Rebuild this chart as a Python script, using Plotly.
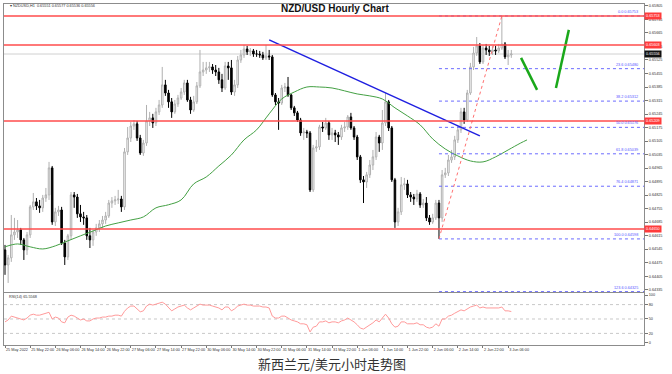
import plotly.graph_objects as go

# ---------------- data ----------------
open_ = [
0.64541,0.64463,0.64500,0.64619,0.64634,0.64645,0.64593,0.64541,0.64619,0.64764,
0.64790,0.64769,0.64759,0.64810,0.64826,0.64966,0.64686,0.64738,0.64748,0.64577,
0.64505,0.64614,0.64826,0.64815,0.64728,0.64712,0.64707,0.64614,0.64593,0.64634,
0.64655,0.64676,0.64696,0.64717,0.64784,0.64795,0.64800,0.64805,0.64764,0.65049,
0.65121,0.65183,0.65194,0.65121,0.65043,0.65095,0.65209,0.65225,0.65199,0.65256,
0.65292,0.65396,0.65354,0.65308,0.65256,0.65297,0.65328,0.65359,0.65406,0.65318,
0.65266,0.65308,0.65391,0.65463,0.65473,0.65484,0.65489,0.65473,0.65463,0.65422,
0.65380,0.65494,0.65484,0.65359,0.65396,0.65525,0.65551,0.65582,0.65567,0.65572,
0.65556,0.65556,0.65551,0.65536,0.65546,0.65541,0.65344,0.65308,0.65302,0.65380,
0.65385,0.65344,0.65277,0.65251,0.65214,0.65147,0.65152,0.65147,0.64852,0.65069,
0.65075,0.65178,0.65173,0.65199,0.65137,0.65147,0.65137,0.65126,0.65173,0.65178,
0.65230,0.65173,0.65126,0.65023,0.64904,0.64893,0.64930,0.64981,0.65023,0.65126,
0.65095,0.65199,0.65308,0.65173,0.64904,0.64686,0.64738,0.64878,0.64883,0.64826,
0.64815,0.64805,0.64831,0.64774,0.64784,0.64707,0.64686,0.64707,0.64784,0.64707,
0.64930,0.64940,0.65007,0.65023,0.65111,0.65163,0.65256,0.65214,0.65354,0.65489,
0.65561,0.65598,0.65515,0.65587,0.65577,0.65567,0.65577,0.65572,0.65587,0.65608,
0.65541,0.65551]
high = [
0.64567,0.64515,0.64722,0.64707,0.64696,0.64655,0.64603,0.64634,0.64774,0.64836,
0.64810,0.64800,0.64826,0.64862,0.64997,0.64976,0.64759,0.64769,0.64764,0.64593,
0.64624,0.64841,0.64841,0.64831,0.64774,0.64738,0.64722,0.64655,0.64645,0.64676,
0.64696,0.64717,0.64738,0.64800,0.64815,0.64821,0.64852,0.64821,0.65069,0.65178,
0.65204,0.65214,0.65209,0.65137,0.65111,0.65292,0.65256,0.65246,0.65277,0.65318,
0.65489,0.65422,0.65370,0.65328,0.65318,0.65344,0.65380,0.65422,0.65422,0.65334,
0.65339,0.65411,0.65577,0.65515,0.65515,0.65515,0.65504,0.65499,0.65484,0.65453,
0.65515,0.65515,0.65525,0.65422,0.65546,0.65577,0.65603,0.65598,0.65587,0.65582,
0.65577,0.65572,0.65567,0.65603,0.65577,0.65551,0.65354,0.65328,0.65396,0.65406,
0.65437,0.65349,0.65287,0.65261,0.65225,0.65173,0.65163,0.65157,0.65085,0.65111,
0.65189,0.65204,0.65225,0.65209,0.65173,0.65163,0.65152,0.65189,0.65204,0.65240,
0.65251,0.65183,0.65137,0.65033,0.64924,0.64945,0.65007,0.65059,0.65152,0.65137,
0.65266,0.65354,0.65318,0.65183,0.64914,0.64759,0.64919,0.64914,0.64904,0.64841,
0.64831,0.64852,0.64841,0.64805,0.64815,0.64722,0.64728,0.64800,0.64800,0.64955,
0.64966,0.65033,0.65059,0.65132,0.65183,0.65277,0.65277,0.65370,0.65510,0.65593,
0.65644,0.65613,0.65603,0.65608,0.65598,0.65598,0.65598,0.65608,0.65753,0.65618,
0.65577,0.65577]
low = [
0.64412,0.64370,0.64479,0.64593,0.64603,0.64567,0.64489,0.64515,0.64603,0.64748,
0.64748,0.64733,0.64738,0.64790,0.64800,0.64671,0.64665,0.64717,0.64567,0.64463,
0.64489,0.64593,0.64759,0.64707,0.64686,0.64671,0.64593,0.64551,0.64562,0.64614,
0.64634,0.64655,0.64676,0.64707,0.64759,0.64774,0.64779,0.64738,0.64748,0.65033,
0.65100,0.65163,0.65106,0.65033,0.65028,0.65080,0.65183,0.65173,0.65183,0.65240,
0.65277,0.65339,0.65277,0.65225,0.65246,0.65282,0.65318,0.65344,0.65308,0.65246,
0.65256,0.65297,0.65380,0.65442,0.65453,0.65463,0.65453,0.65442,0.65401,0.65359,
0.65370,0.65422,0.65344,0.65339,0.65380,0.65510,0.65536,0.65551,0.65546,0.65541,
0.65541,0.65536,0.65525,0.65525,0.65525,0.65334,0.65292,0.65163,0.65292,0.65359,
0.65334,0.65266,0.65235,0.65204,0.65132,0.65111,0.65121,0.64841,0.64841,0.65049,
0.65059,0.65152,0.65163,0.65111,0.65111,0.65100,0.65085,0.65111,0.65152,0.65163,
0.65163,0.65111,0.65007,0.64888,0.64784,0.64862,0.64914,0.64955,0.65007,0.65049,
0.65059,0.65183,0.65157,0.64893,0.64655,0.64665,0.64722,0.64852,0.64810,0.64790,
0.64774,0.64790,0.64759,0.64759,0.64691,0.64671,0.64676,0.64696,0.64598,0.64686,
0.64914,0.64924,0.64992,0.65007,0.65095,0.65147,0.65194,0.65204,0.65344,0.65473,
0.65546,0.65504,0.65504,0.65551,0.65546,0.65551,0.65551,0.65561,0.65577,0.65530,
0.65499,0.65536]
close = [
0.64463,0.64500,0.64619,0.64634,0.64645,0.64593,0.64541,0.64619,0.64764,0.64790,
0.64769,0.64759,0.64810,0.64826,0.64966,0.64686,0.64738,0.64748,0.64577,0.64505,
0.64614,0.64826,0.64815,0.64728,0.64712,0.64707,0.64614,0.64593,0.64634,0.64655,
0.64676,0.64696,0.64717,0.64784,0.64795,0.64800,0.64805,0.64764,0.65049,0.65121,
0.65183,0.65194,0.65121,0.65043,0.65095,0.65209,0.65225,0.65199,0.65256,0.65292,
0.65396,0.65354,0.65308,0.65256,0.65297,0.65328,0.65359,0.65406,0.65318,0.65266,
0.65308,0.65391,0.65463,0.65473,0.65484,0.65489,0.65473,0.65463,0.65422,0.65380,
0.65494,0.65484,0.65359,0.65396,0.65525,0.65551,0.65582,0.65567,0.65572,0.65556,
0.65556,0.65551,0.65536,0.65546,0.65541,0.65344,0.65308,0.65302,0.65380,0.65385,
0.65344,0.65277,0.65251,0.65214,0.65147,0.65152,0.65147,0.64852,0.65069,0.65075,
0.65178,0.65173,0.65199,0.65137,0.65147,0.65137,0.65126,0.65173,0.65178,0.65230,
0.65173,0.65126,0.65023,0.64904,0.64893,0.64930,0.64981,0.65023,0.65126,0.65095,
0.65199,0.65308,0.65173,0.64904,0.64686,0.64738,0.64878,0.64883,0.64826,0.64815,
0.64805,0.64831,0.64774,0.64784,0.64707,0.64686,0.64707,0.64784,0.64707,0.64930,
0.64940,0.65007,0.65023,0.65111,0.65163,0.65256,0.65214,0.65354,0.65489,0.65561,
0.65598,0.65515,0.65587,0.65577,0.65567,0.65577,0.65572,0.65587,0.65608,0.65541,
0.65551,0.65556]
bar_idx = list(range(len(close)))

rsi = [44,48,56,54,52,50,48,52,58,60,
58,58,60,62,64,50,54,52,44,42,
54,58,56,52,48,50,46,46,50,52,
52,54,54,56,56,58,58,56,66,73,
77,77,71,65,67,77,81,79,81,83,
85,81,73,67,71,75,77,79,73,69,
73,77,81,79,79,79,77,75,73,69,
75,75,67,71,77,79,81,79,79,77,
77,77,75,75,73,56,52,52,56,56,
52,48,46,44,40,40,38,23,33,35,
44,44,46,42,44,44,42,46,48,52,
48,44,38,31,29,33,38,42,48,44,
52,60,52,40,33,35,44,44,40,40,
40,42,38,38,33,31,33,40,35,50,
50,56,58,62,65,69,67,71,75,77,
79,73,75,73,73,73,73,73,75,67,
67,65.5568]

ma_bars = [0,4,8,12,16,20,24,28,32,36,40,44,48,52,56,60,64,68,72,76,80,84,88,92,96,
           100,104,108,112,116,120,124,128,132,136,140,144,148,152,156,160,164,166]
ma_values = [0.64557,0.64572,0.64557,0.64546,0.64562,0.64588,0.64614,0.64639,0.64665,0.64681,
             0.64696,0.64712,0.64759,0.64775,0.64800,0.64883,0.64919,0.64976,0.65033,0.65111,
             0.65163,0.65246,0.65323,0.65359,0.65385,0.65385,0.65380,0.65365,0.65349,0.65339,
             0.65323,0.65277,0.65235,0.65189,0.65116,0.65064,0.65028,0.65002,0.64997,0.65023,
             0.65059,0.65095,0.65111]

x_tick_bars = [0,8,16,24,32,40,48,56,64,72,80,88,96,104,112,120,128,136,144,152,160]
x_tick_labels = ["25 May 2022","25 May 22:00","26 May 06:00","26 May 14:00","26 May 22:00",
                 "27 May 06:00","27 May 14:00","27 May 22:00","30 May 06:00","30 May 14:00",
                 "30 May 22:00","31 May 06:00","31 May 14:00","31 May 22:00","1 Jun 06:00",
                 "1 Jun 14:00","1 Jun 22:00","2 Jun 06:00","2 Jun 14:00","2 Jun 22:00","3 Jun 06:00"]
y_tick_values = [0.65805,0.65735,0.65665,0.65595,0.65525,0.65455,0.65385,0.65315,0.65245,0.65175,
                 0.65105,0.65035,0.64965,0.64895,0.64825,0.64755,0.64685,0.64615,0.64545,0.64475,
                 0.64405,0.64335]
rsi_ticks = [0,20,50,80,100]
rsi_levels = [20,50,80]

red_levels = [0.65753,0.65603,0.65209,0.64650]
current_price = close[-1]

fib_ratios = ["0.0","23.6","38.2","50.0","61.8","76.4","100.0","123.6"]
fib_prices = [0.65753,0.65480,0.65312,0.65176,0.65039,0.64871,0.64598,0.64325]
fib_start_bar = 138
fib_anchor_x = [138,158]
fib_anchor_y = [0.64598,0.65753]

trend_x = [84,151]
trend_y = [0.65629,0.65132]
forecast1_x = [164.1,169.2]
forecast1_y = [0.65536,0.65370]
forecast2_x = [175.2,179.3]
forecast2_y = [0.65380,0.65681]

X_RANGE = [-0.32, 203.2]
Y_RANGE = [0.64323, 0.65815]
RSI_RANGE = [-4.2, 104.2]

# ---------------- figure ----------------
fig = go.Figure()

fig.add_trace(go.Candlestick(
    x=bar_idx, open=open_, high=high, low=low, close=close,
    xaxis='x', yaxis='y',
    increasing=dict(line=dict(color='#b0b0b0', width=1), fillcolor='#ffffff'),
    decreasing=dict(line=dict(color='#000000', width=1), fillcolor='#000000'),
    whiskerwidth=0, hoverinfo='skip'))

fig.add_trace(go.Scatter(x=ma_bars, y=ma_values, mode='lines', xaxis='x', yaxis='y',
                         line=dict(color='#43a043', width=1, shape='spline'), hoverinfo='skip'))

for fp in fib_prices:
    fig.add_trace(go.Scatter(x=[fib_start_bar, X_RANGE[1]], y=[fp, fp], mode='lines',
                             xaxis='x', yaxis='y',
                             line=dict(color='#6b6bff', width=1, dash='dot'), hoverinfo='skip'))

fig.add_trace(go.Scatter(x=fib_anchor_x, y=fib_anchor_y, mode='lines', xaxis='x', yaxis='y',
                         line=dict(color='#ff7070', width=1, dash='dot'), hoverinfo='skip'))
fig.add_trace(go.Scatter(x=trend_x, y=trend_y, mode='lines', xaxis='x', yaxis='y',
                         line=dict(color='#1f1fe0', width=1.5), hoverinfo='skip'))
for fx, fy in ((forecast1_x, forecast1_y), (forecast2_x, forecast2_y)):
    fig.add_trace(go.Scatter(x=fx, y=fy, mode='lines', xaxis='x', yaxis='y',
                             line=dict(color='#1aa81a', width=2.5), hoverinfo='skip'))

fig.add_trace(go.Scatter(x=bar_idx, y=rsi, mode='lines', xaxis='x2', yaxis='y2',
                         line=dict(color='#ff9a9a', width=1), hoverinfo='skip'))

shapes = []
shapes.append(dict(type='line', xref='paper', yref='y', x0=0, x1=1, y0=current_price, y1=current_price,
                   line=dict(color='#d0d0d0', width=1), layer='below'))
for lv in red_levels:
    shapes.append(dict(type='line', xref='paper', yref='y', x0=0, x1=1, y0=lv, y1=lv,
                       line=dict(color='#ff4d4d', width=1.5)))
for lv in rsi_levels:
    shapes.append(dict(type='line', xref='paper', yref='y2', x0=0, x1=1, y0=lv, y1=lv,
                       line=dict(color='#c8c8c8', width=1, dash='dot'), layer='below'))

FONT = 'Liberation Sans, Arial, sans-serif'
TINY = 3.8
small = dict(family=FONT, size=TINY, color='#333333')
annotations = []
for r, fp in zip(fib_ratios, fib_prices):
    annotations.append(dict(xref='paper', yref='y', x=0.994, y=fp, xanchor='right', yanchor='bottom',
                            text=f"{r} {fp:.5f}", showarrow=False,
                            font=dict(family=FONT, size=TINY, color='#5555ff')))
for lv in red_levels:
    annotations.append(dict(xref='paper', yref='y', x=1.0, y=lv, xanchor='left', yanchor='middle',
                            text=f"{lv:.5f}", showarrow=False, bgcolor='#ff3b3b', borderpad=1,
                            font=dict(family=FONT, size=TINY, color='#ffffff')))
annotations.append(dict(xref='paper', yref='y', x=1.0, y=current_price, xanchor='left', yanchor='middle',
                        text=f"{current_price:.5f}", showarrow=False, bgcolor='#111111', borderpad=1,
                        font=dict(family=FONT, size=TINY, color='#ffffff')))
annotations.append(dict(xref='paper', yref='paper', x=0.517, y=0.988, xanchor='center', yanchor='middle',
                        text="<b>NZD/USD Hourly Chart</b>", showarrow=False,
                        font=dict(family=FONT, size=10, color='#111111')))
annotations.append(dict(xref='paper', yref='paper', x=0.006, y=0.994, xanchor='left', yanchor='middle',
                        text="▾ NZDUSD,H1  0.65551 0.65577 0.65536 0.65556", showarrow=False, font=small))
annotations.append(dict(xref='paper', yref='paper', x=0.004, y=0.141, xanchor='left', yanchor='middle',
                        text="RSI(14) 65.5568", showarrow=False, font=small))
annotations.append(dict(xref='paper', yref='paper', x=0.5125, y=-0.053, xanchor='center', yanchor='middle',
                        text="新西兰元/美元小时走势图", showarrow=False,
                        font=dict(family='Noto Sans CJK SC', size=13, color='#333333')))

axis_common = dict(showgrid=False, zeroline=False, showline=True, mirror=True, linecolor='#8c8c8c', linewidth=1)

fig.update_layout(
    width=672, height=374,
    margin=dict(l=4, r=28, t=4, b=29),
    paper_bgcolor='white', plot_bgcolor='white',
    showlegend=False, hovermode=False,
    shapes=shapes, annotations=annotations,
    xaxis=dict(domain=[0, 1], anchor='y', range=X_RANGE, showticklabels=False, ticks='',
               rangeslider=dict(visible=False), **axis_common),
    yaxis=dict(domain=[0.1554, 1], anchor='x', side='right', range=Y_RANGE,
               tickvals=y_tick_values, tickformat='.5f', ticks='outside', ticklen=3, tickcolor='#777',
               tickfont=small, automargin=False, **axis_common),
    xaxis2=dict(domain=[0, 1], anchor='y2', matches='x', range=X_RANGE,
                tickvals=x_tick_bars, ticktext=x_tick_labels, ticklabelposition='outside right',
                tickangle=0, ticks='outside', ticklen=2, tickcolor='#777', tickfont=small,
                automargin=False, **axis_common),
    yaxis2=dict(domain=[0, 0.1525], anchor='x2', side='right', range=RSI_RANGE,
                tickvals=rsi_ticks, ticks='outside', ticklen=3, tickcolor='#777',
                tickfont=small, automargin=False, **axis_common),
)

fig.write_html("out.html",
               config={'displayModeBar': False, 'staticPlot': True},
               post_script="document.body.style.margin='0px';document.body.style.overflow='hidden';")
